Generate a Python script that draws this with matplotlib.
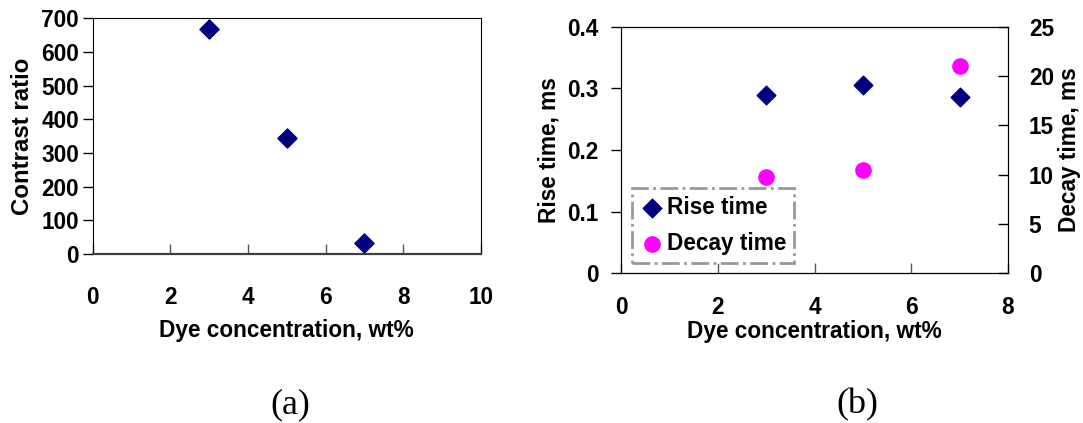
import matplotlib
matplotlib.use("Agg")
import matplotlib.pyplot as plt

# panel (a)
conc_a = [3, 5, 7]
contrast = [668, 344, 32]

# panel (b)
conc_b = [3, 5, 7]
rise_time = [0.289, 0.306, 0.286]
decay_time = [9.8, 10.5, 21.0]

navy = "#000080"
magenta = "#FF00FF"
plt.rcParams["font.family"] = ["Liberation Sans", "DejaVu Sans"]
plt.rcParams["font.weight"] = "bold"

fig = plt.figure(figsize=(10.83, 4.23), dpi=100)
W, H = 1083, 423

def axes_px(x0, y0, x1, y1):
    return fig.add_axes([x0 / W, 1 - y1 / H, (x1 - x0) / W, (y1 - y0) / H])

fs = 16.3

# (a)
ax1 = axes_px(92.7, 18.3, 480.7, 254)
ax1.scatter(conc_a, contrast, marker="D", s=95, color=navy, zorder=3)
ax1.set_xlim(0, 10)
ax1.set_ylim(0, 700)
ax1.set_xticks([0, 2, 4, 6, 8, 10])
ax1.set_yticks(range(0, 701, 100))
ax1.tick_params(axis="y", direction="out", length=7, width=1, pad=3, labelsize=fs)
ax1.tick_params(axis="x", direction="in", length=7, width=1, color="#555555", pad=23, labelsize=fs)
ax1.spines["bottom"].set_color("#404040")
ax1.spines["bottom"].set_linewidth(1.6)
ax1.set_xlabel("Dye concentration, wt%", fontsize=fs, fontweight="bold", labelpad=7)
ax1.set_ylabel("Contrast ratio", fontsize=fs + 1, fontweight="bold", labelpad=5)

# (b)
ax2 = axes_px(621, 26.7, 1008, 273.3)
ax3 = ax2.twinx()
h1 = ax2.scatter(conc_b, rise_time, marker="D", s=90, color=navy, zorder=3, label="Rise time")
h2 = ax3.scatter(conc_b, decay_time, marker="o", s=120, color=magenta, zorder=3, label="Decay time")
ax2.set_xlim(0, 8)
ax2.set_ylim(0, 0.4)
ax3.set_ylim(0, 25)
ax2.set_xticks([0, 2, 4, 6, 8])
ax2.set_yticks([0, 0.1, 0.2, 0.3, 0.4])
ax2.set_yticklabels(["0", "0.1", "0.2", "0.3", "0.4"])
ax3.set_yticks([0, 5, 10, 15, 20, 25])
ax2.tick_params(axis="y", direction="out", length=7, width=1, pad=9, labelsize=fs)
ax2.tick_params(axis="x", direction="in", length=7, width=1, color="#555555", pad=16, labelsize=fs)
ax3.tick_params(axis="y", direction="in", length=7, width=1, pad=15, labelsize=fs)
ax2.set_xlabel("Dye concentration, wt%", fontsize=fs, fontweight="bold", labelpad=1)
ax2.set_ylabel("Rise time, ms", fontsize=fs, fontweight="bold", labelpad=5)
ax3.set_ylabel("Decay time, ms", fontsize=fs, fontweight="bold", labelpad=3)

leg = ax2.legend(handles=[h1, h2], loc="lower left", bbox_to_anchor=(10.6 / 387, 10.6 / 246.6),
                 fontsize=fs, frameon=True, fancybox=False, handletextpad=0.1,
                 borderpad=0.35, labelspacing=0.55, handlelength=1.1, borderaxespad=0)
fr = leg.get_frame()
fr.set_edgecolor("#808080")
fr.set_linewidth(2)
fr.set_linestyle("-.")

fig.text(290 / W, 1 - 405 / H, "(a)", family="Liberation Serif", fontweight="normal",
         fontsize=26, ha="center", va="center")
fig.text(857 / W, 1 - 405 / H, "(b)", family="Liberation Serif", fontweight="normal",
         fontsize=26, ha="center", va="center")

fig.savefig("out.png", dpi=100)
